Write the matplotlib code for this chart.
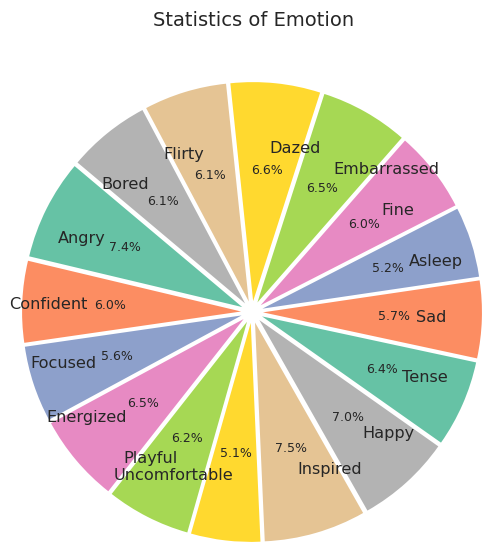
import numpy as np
import matplotlib
matplotlib.use("Agg")
import matplotlib.pyplot as plt

# emotion shares, counterclockwise starting with Tense
emotions = ["Tense", "Sad", "Asleep", "Fine", "Embarrassed", "Dazed", "Flirty", "Bored",
            "Angry", "Confident", "Focused", "Energized", "Playful", "Uncomfortable",
            "Inspired", "Happy"]
shares = [6.4, 5.7, 5.2, 6.0, 6.5, 6.6, 6.1, 6.1,
          7.4, 6.0, 5.6, 6.5, 6.2, 5.1, 7.5, 7.0]

colors = [plt.cm.Set2(i % 8) for i in range(len(emotions))]
explode = [0.05] * len(emotions)

W, H = 482, 544
fig = plt.figure(figsize=(W / 100, H / 100), dpi=100)

# pie centre at (252, 312) px from top-left, 219 px per unit
scale = 219
lim = 1.14
cx, cy = 252, H - 312
half = lim * scale
ax = fig.add_axes([(cx - half) / W, (cy - half) / H, 2 * half / W, 2 * half / H])

wedges, texts, autotexts = ax.pie(
    shares, labels=emotions, colors=colors, explode=explode,
    startangle=-35.2, autopct="%1.1f%%", labeldistance=0.7, pctdistance=0.6,
    textprops={"color": "0.15"}, wedgeprops={"linewidth": 0})
for t in texts:
    t.set_fontsize(11.6)
for t in autotexts:
    t.set_fontsize(9)
ax.set_xlim(-lim, lim)
ax.set_ylim(-lim, lim)
ax.set_aspect("auto")

fig.text(254 / W, 1 - 20 / H, "Statistics of Emotion", ha="center", va="center",
         fontsize=14, color="0.15")

fig.savefig("out.png", dpi=100)
